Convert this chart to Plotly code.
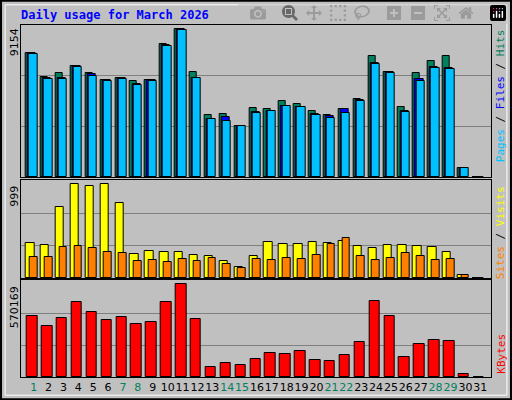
import plotly.graph_objects as go
from plotly.subplots import make_subplots

days = list(range(1, 32))
weekend = [1, 7, 8, 14, 15, 21, 22, 28, 29]

hits = [7474, 6020, 6262, 6686, 6262, 5838, 5959, 5777, 5838, 8040, 8928, 6343, 3717, 3798, 3111,
        4141, 4080, 4565, 4383, 3959, 3717, 4080, 4686, 7292, 6343, 4202, 6262, 6989, 7292, 566, 0]
files = [7474, 5959, 5959, 6686, 6201, 5838, 5959, 5595, 5838, 7959, 8928, 5959, 3474, 3596, 3111,
         3899, 3959, 4262, 4202, 3777, 3656, 4080, 4626, 6868, 6323, 3959, 5898, 6626, 6565, 566, 0]
pages = [7413, 5898, 5898, 6626, 6080, 5777, 5898, 5535, 5777, 7898, 8868, 5959, 3474, 3353, 3111,
         3838, 3959, 4262, 4202, 3717, 3535, 3838, 4565, 6807, 6262, 3899, 5777, 6565, 6504, 566, 0]
visits = [361, 340, 739, 971, 950, 971, 782, 245, 277, 266, 266, 235, 224, 172, 119,
          224, 371, 350, 350, 371, 361, 382, 329, 308, 340, 340, 329, 319, 266, 35, 0]
sites = [214, 214, 319, 329, 308, 266, 256, 172, 182, 161, 193, 172, 203, 150, 109,
         193, 182, 203, 193, 235, 350, 413, 224, 182, 203, 256, 224, 182, 193, 35, 0]
kbytes = [365982, 305000, 354000, 445000, 390000, 342000, 360000, 317000, 330000, 445000, 554000,
          348000, 57000, 81000, 69000, 105000, 142000, 135000, 154000, 99000, 93000, 129000,
          208000, 451000, 366000, 117000, 196000, 220000, 214000, 20000, 0]

max_hits = 9154
max_visits = 999
max_kb = 570169

fig = make_subplots(rows=3, cols=1)

def bar(y, color, offset, width, row):
    fig.add_trace(go.Bar(x=days, y=y, marker=dict(color=color, line=dict(color="black", width=1)),
                         offset=offset, width=width, showlegend=False, hoverinfo="y"), row=row, col=1)

bar(hits, "#00805c", -0.52, 0.47, 1)
bar(files, "#0000ff", -0.38, 0.55, 1)
bar(pages, "#00c0ff", -0.30, 0.55, 1)
bar(visits, "#ffff00", -0.52, 0.56, 2)
bar(sites, "#ff8000", -0.27, 0.52, 2)
bar(kbytes, "#ff0000", -0.45, 0.7, 3)

fig.update_layout(
    width=512, height=400, margin=dict(l=0, r=0, t=0, b=0),
    paper_bgcolor="#c0c0c0", plot_bgcolor="#c0c0c0",
    barmode="overlay", bargap=0,
    font=dict(family="DejaVu Sans", size=11, color="black"),
)

xdom = [0.0404, 0.9584]
ydoms = [[0.5575, 0.9375], [0.305, 0.55], [0.0575, 0.30]]
ymax = [max_hits * 1.003, max_visits * 1.018, max_kb * 1.014]
grids = [max_hits, max_visits, max_kb]
for i in range(3):
    ax = "" if i == 0 else str(i + 1)
    fig.layout["xaxis" + ax].update(domain=xdom, range=[0.13, 31.7], showline=True, mirror=True,
                                    linecolor="black", linewidth=1, showgrid=False, zeroline=False,
                                    showticklabels=(i == 2), ticks="", tickangle=0,
                                    tickvals=days,
                                    ticktext=[("<span style='color:#00805c'>%d</span>" % d) if d in weekend else str(d) for d in days],
                                    tickfont=dict(size=11, family="DejaVu Sans"))
    fig.layout["yaxis" + ax].update(domain=ydoms[i], range=[0, ymax[i]], showline=True, mirror=True,
                                    linecolor="black", linewidth=1, showticklabels=False, ticks="",
                                    tickvals=[grids[i] / 3, grids[i] * 2 / 3], gridcolor="#808080",
                                    gridwidth=1, zeroline=False)

left_labels = [("9154", ydoms[0][1] - 0.002), ("999", ydoms[1][1] - 0.01), ("570169", ydoms[2][1] - 0.01)]
for txt, y in left_labels:
    fig.add_annotation(text=txt, x=0.028, y=y, xref="paper", yref="paper", textangle=-90,
                       xanchor="center", yanchor="top", showarrow=False,
                       font=dict(size=11, family="DejaVu Sans"))

right_labels = [
    ("<span style='color:#00c0ff'>Pages</span> / <span style='color:#0000ff'>Files</span> / <span style='color:#00805c'>Hits</span>", ydoms[0][1] - 0.005),
    ("<span style='color:#ff8000'>Sites</span> / <span style='color:#ffff00'>Visits</span>", ydoms[1][1] - 0.01),
    ("<span style='color:#ff0000'>KBytes</span>", 0.06),
]
for i, (txt, y) in enumerate(right_labels):
    fig.add_annotation(text=txt, x=0.978, y=y, xref="paper", yref="paper", textangle=-90,
                       xanchor="center", yanchor="top" if i < 2 else "bottom", showarrow=False,
                       font=dict(size=11, family="DejaVu Sans Mono", color="black"))

fig.add_annotation(text="<b>Daily usage for March 2026</b>", x=0.037, y=0.985, xref="paper", yref="paper",
                   xanchor="left", yanchor="top", showarrow=False,
                   font=dict(size=12, family="DejaVu Sans Mono", color="#0000ff"))

fig.add_shape(type="rect", xref="paper", yref="paper", x0=0.002, y0=0.002, x1=0.998, y1=0.998,
              line=dict(color="black", width=2))
fig.add_shape(type="rect", xref="paper", yref="paper", x0=0.01, y0=0.012, x1=0.99, y1=0.988,
              line=dict(color="white", width=1))

fig.write_html("out.html", post_script="document.body.style.margin='0';")
